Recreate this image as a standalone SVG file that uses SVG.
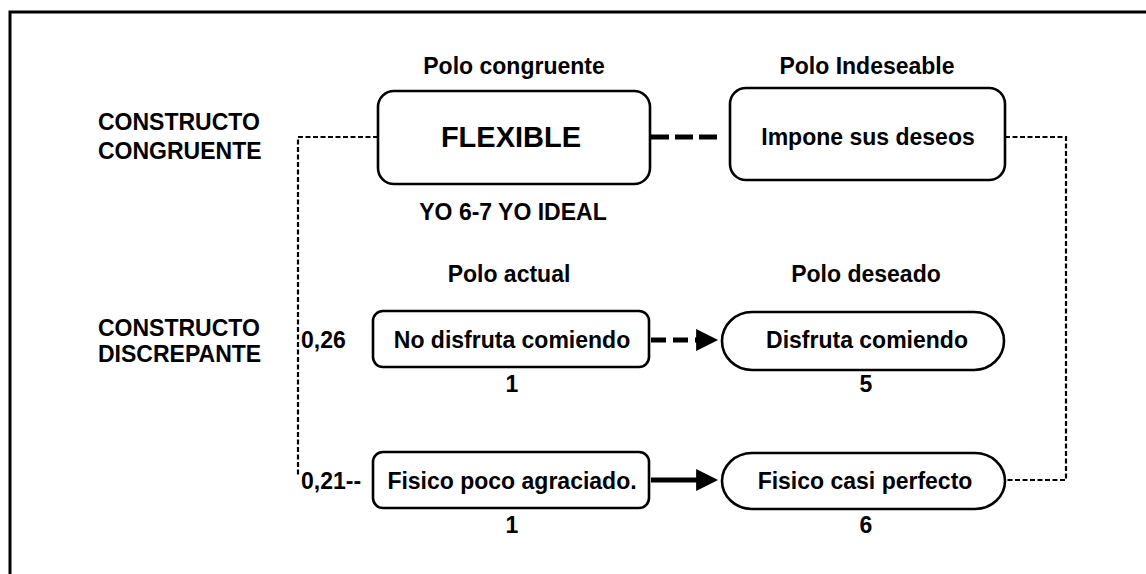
<svg xmlns="http://www.w3.org/2000/svg" width="1146" height="574" viewBox="0 0 1146 574">
  <style>
    text { font-family: "Liberation Sans", Arial, Helvetica, sans-serif; font-weight: bold; fill: #000; }
    .t { font-size: 23px; }
    .c { text-anchor: middle; }
    .big { font-size: 29px; }
    .num { font-size: 23px; }
    .box { fill: #fff; stroke: #000; stroke-width: 2.6; }
    .thin { fill: none; stroke: #000; stroke-width: 2.2; stroke-dasharray: 5 2.5; }
    .thick { fill: none; stroke: #000; stroke-width: 5; }
  </style>
  <defs>
    <marker id="head" viewBox="0 0 10 10" refX="0.4" refY="5" markerWidth="5" markerHeight="4.4" markerUnits="strokeWidth" orient="auto">
      <path d="M0,0 L10,5 L0,10 Z" fill="#000"/>
    </marker>
  </defs>
  <rect width="1146" height="574" fill="#fff"/>
  <!-- outer frame, open to the right and bottom -->
  <path d="M10,580 V12 H1150" fill="none" stroke="#000" stroke-width="3"/>

  <!-- row labels -->
  <g id="label-congruente">
    <text class="t" x="98" y="130">CONSTRUCTO</text>
    <text class="t" x="98" y="159">CONGRUENTE</text>
  </g>
  <g id="label-discrepante">
    <text class="t" x="98" y="336">CONSTRUCTO</text>
    <text class="t" x="98" y="362">DISCREPANTE</text>
  </g>

  <!-- column headers -->
  <text class="t c" x="514" y="74">Polo congruente</text>
  <text class="t c" x="867" y="74">Polo Indeseable</text>
  <text class="t c" x="513" y="220">YO 6-7 YO IDEAL</text>
  <text class="t c" x="509" y="282">Polo actual</text>
  <text class="t c" x="866" y="282">Polo deseado</text>

  <!-- connectors -->
  <g id="connectors">
    <path class="thin" d="M378,137 H298 V475"/>
    <path class="thin" d="M1005,137 H1066 V480 H1005"/>
    <path class="thick" d="M651,137 H717" stroke-dasharray="18 6"/>
    <path class="thick" d="M651,340 H697" stroke-dasharray="15 7" marker-end="url(#head)"/>
    <path class="thick" d="M651,480 H697" marker-end="url(#head)"/>
  </g>

  <g id="flexible">
    <rect class="box" x="378" y="91" width="272" height="93" rx="16"/>
    <text class="big c" x="511" y="147">FLEXIBLE</text>
  </g>
  <g id="impone">
    <rect class="box" x="730" y="88" width="275" height="92" rx="16"/>
    <text class="t c" x="868" y="145">Impone sus deseos</text>
  </g>

  <g id="no-disfruta">
    <rect class="box" x="373" y="311" width="276" height="56" rx="10"/>
    <text class="t c" x="512" y="348">No disfruta comiendo</text>
    <text class="num" x="301" y="348">0,26</text>
    <text class="t c" x="512" y="392">1</text>
  </g>
  <g id="disfruta">
    <rect class="box" x="722" y="312" width="282" height="58" rx="30" ry="29"/>
    <text class="t c" x="867" y="348">Disfruta comiendo</text>
    <text class="t c" x="866" y="392">5</text>
  </g>

  <g id="fisico-poco">
    <rect class="box" x="373" y="452" width="276" height="56" rx="10"/>
    <text class="t c" x="512" y="489">Fisico poco agraciado.</text>
    <text class="num" x="301" y="489">0,21--</text>
    <text class="t c" x="512" y="533">1</text>
  </g>
  <g id="fisico-casi">
    <rect class="box" x="722" y="453" width="283" height="56" rx="30" ry="28"/>
    <text class="t c" x="865" y="489">Fisico casi perfecto</text>
    <text class="t c" x="866" y="533">6</text>
  </g>
</svg>
